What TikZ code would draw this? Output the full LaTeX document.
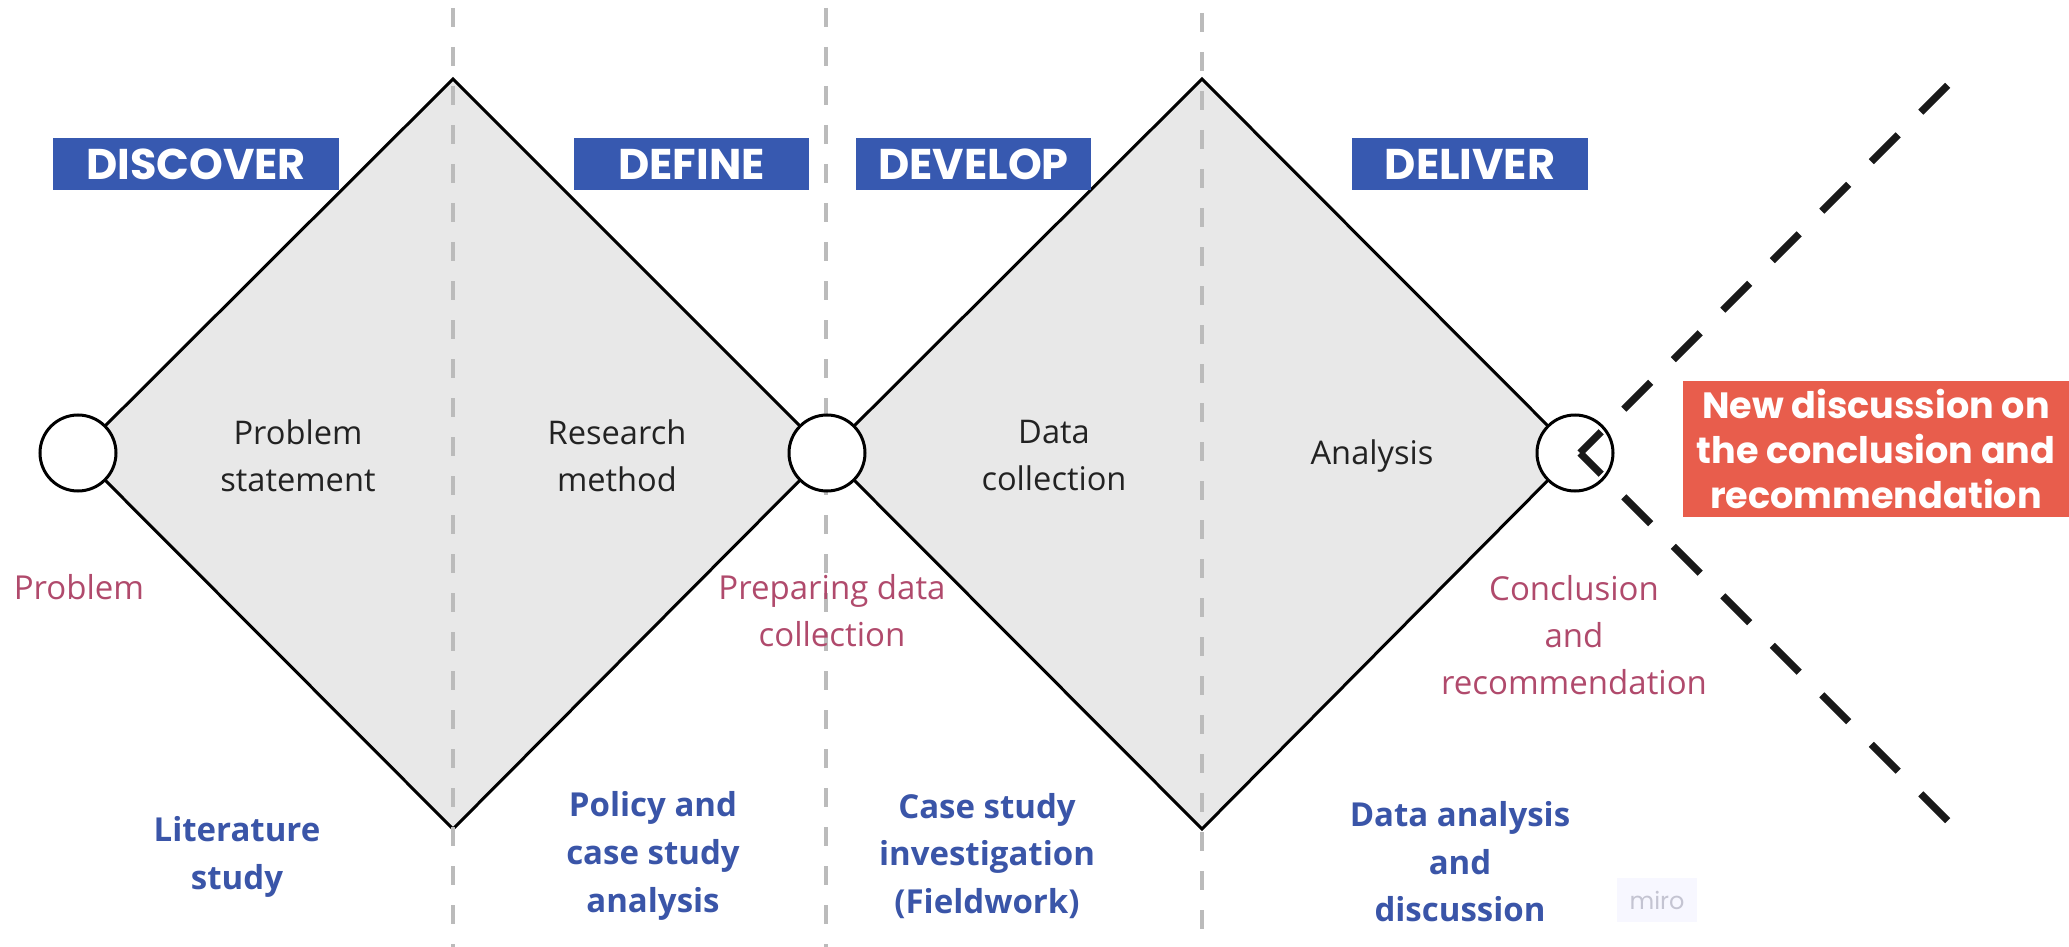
\documentclass[tikz,border=0pt]{standalone}
\usepackage{fontspec}
\setmainfont{Open Sans}
\newfontfamily\headfont{Poppins}
\definecolor{diafill}{HTML}{E8E8E8}
\definecolor{sepgray}{HTML}{BBBBBB}
\definecolor{hdrblue}{HTML}{3759B0}
\definecolor{txtblue}{HTML}{3A55A8}
\definecolor{txtrose}{HTML}{B04A6C}
\definecolor{boxred}{HTML}{E85D4C}
\definecolor{txtdark}{HTML}{222222}
\definecolor{mirogray}{HTML}{C4C4D2}
\begin{document}
\begin{tikzpicture}[x=0.5pt,y=-0.5pt,
  sep/.style={draw=sepgray,line width=2pt,dash pattern=on 9.5pt off 10pt},
  dia/.style={fill=diafill,draw=black,line width=1.5pt,line join=miter},
  circ/.style={circle,draw=black,fill=white,line width=1.5pt,minimum size=38pt,inner sep=0pt},
  hdr/.style={fill=hdrblue,text=white,font=\headfont\bfseries\fontsize{21.5}{24}\selectfont,minimum height=26pt,inner sep=0pt},
  lbl/.style={align=center,text=txtdark,font=\fontsize{16.3}{23.5}\selectfont},
  rose/.style={align=center,text=txtrose,font=\fontsize{16.5}{23.5}\selectfont},
  blu/.style={align=center,text=txtblue,font=\bfseries\fontsize{16.5}{23.8}\selectfont},
  newbox/.style={fill=boxred,text=white,align=center,font=\headfont\bfseries\fontsize{18.3}{22.3}\selectfont,minimum width=193pt,minimum height=68pt,inner sep=0pt},
  thickdash/.style={draw=black!90,line width=3.6pt,dash pattern=on 19pt off 16pt,dash phase=4pt}]
\useasboundingbox (0,0) rectangle (2069,947);
% diamond vertices
\coordinate (t1) at (453,79);
\coordinate (b1) at (453,829);
\coordinate (t2) at (1202,79);
\coordinate (b2) at (1202,829);
\coordinate (l1) at (78,453);
\coordinate (m1) at (827,453);
\coordinate (r1) at (1575,453);
% diamonds
\path[dia] (l1) -- (t1) -- (m1) -- (b1) -- cycle;
\path[dia] (m1) -- (t2) -- (r1) -- (b2) -- cycle;
% separators
\coordinate (s1t) at (453,8);  \coordinate (s1b) at (453,947);
\coordinate (s2t) at (826,8);  \coordinate (s2b) at (826,947);
\coordinate (s3t) at (1202,13); \coordinate (s3b) at (1202,947);
\draw[sep] (s1t) -- (s1b);
\draw[sep] (s2t) -- (s2b);
\draw[sep] (s3t) -- (s3b);
% circles
\node[circ] (c1) at (l1) {};
\node[circ] (c2) at (m1) {};
\node[circ] (c3) at (r1) {};
% dashed branches
\coordinate (e1) at (1955,78);
\coordinate (e2) at (1955,828);
\draw[thickdash] (1580,453) -- (e1);
\draw[thickdash] (1580,453) -- (e2);
% headers
\node[hdr,minimum width=143pt] (h1) at (196,164) {DISCOVER};
\node[hdr,minimum width=117.5pt] (h2) at (691.5,164) {DEFINE};
\node[hdr,minimum width=117.5pt] (h3) at (973.5,164) {DEVELOP};
\node[hdr,minimum width=118pt] (h4) at (1470,164) {DELIVER};
% inner labels
\node[lbl] (p1) at (298,456) {Problem\\statement};
\node[lbl] (p2) at (617,456) {Research\\method};
\node[lbl] (p3) at (1054,456) {Data\\collection};
\node[lbl] (p4) at (1372,456) {Analysis};
% rose labels
\node[rose] (q1) at (79,587) {Problem};
\node[rose] (q2) at (832,611) {Preparing data\\collection};
\node[rose] (q3) at (1574,635) {Conclusion\\and\\recommendation};
% blue labels
\node[blu] (u1) at (237,857) {Literature\\study};
\node[blu] (u2) at (653,856) {Policy and\\case study\\analysis};
\node[blu] (u3) at (987,856) {Case study\\investigation\\(Fieldwork)};
\node[blu] (u4) at (1460,862) {Data analysis\\and\\discussion};
% new discussion box
\node[newbox] (nb) at (1876,449) {New discussion on\\the conclusion and\\recommendation};
% watermark
\node[fill=white!97!blue,minimum width=40pt,minimum height=22pt,inner sep=0pt,text=mirogray,font=\headfont\fontsize{12}{14}\selectfont] (miro) at (1657,900) {miro};
\end{tikzpicture}
\end{document}
